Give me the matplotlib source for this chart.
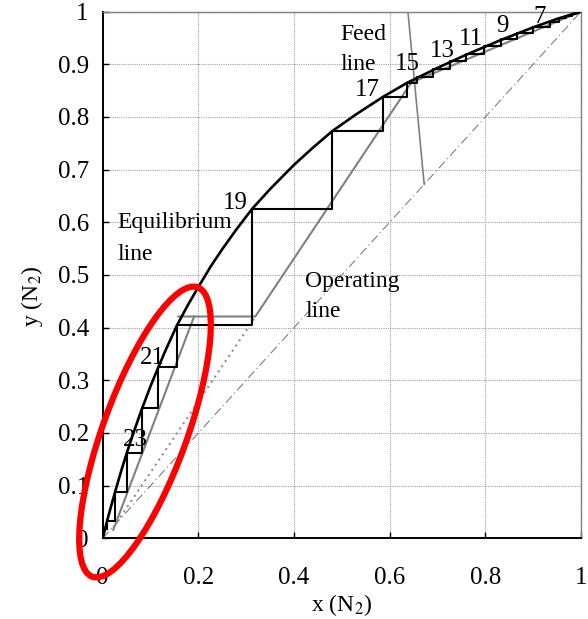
import numpy as np
import matplotlib
matplotlib.use("Agg")
import matplotlib.pyplot as plt
from matplotlib.patches import Ellipse
from matplotlib.transforms import IdentityTransform

plt.rcParams['font.family'] = ['Liberation Serif', 'DejaVu Serif']
plt.rcParams['mathtext.fontset'] = 'stix'

# equilibrium curve
eq_x = [0, 0.005, 0.01, 0.02, 0.03, 0.04, 0.05, 0.065, 0.08, 0.1, 0.115, 0.13, 0.155,
        0.18, 0.2, 0.225, 0.25, 0.28, 0.312, 0.35, 0.4, 0.44, 0.48, 0.53, 0.586, 0.637,
        0.7, 0.76, 0.83, 0.9, 0.95, 1.0]
eq_y = [0, 0.018, 0.036, 0.069, 0.101, 0.132, 0.161, 0.202, 0.241, 0.289, 0.322, 0.354,
        0.404, 0.446, 0.477, 0.515, 0.549, 0.587, 0.625, 0.663, 0.709, 0.742, 0.773, 0.805,
        0.838, 0.865, 0.893, 0.918, 0.945, 0.970, 0.986, 1.0]

# stage points (on the equilibrium curve), stage 1 at the top
stage_x = [0.998, 0.995, 0.99, 0.982, 0.968, 0.953, 0.935, 0.90, 0.867, 0.832, 0.797,
           0.760, 0.725, 0.690, 0.656, 0.637, 0.586, 0.48, 0.312, 0.155, 0.116, 0.0815,
           0.05, 0.0257, 0.0096]
stage_y = [0.9995, 0.9986, 0.9972, 0.995, 0.991, 0.987, 0.981, 0.970, 0.959, 0.947, 0.934,
           0.920, 0.906, 0.890, 0.875, 0.865, 0.838, 0.774, 0.626, 0.405, 0.326, 0.247,
           0.162, 0.088, 0.033]
stage_bottom = 0.018

# operating lines
op_upper_x = [1.0, 0.645, 0.319, 0.158]
op_upper_y = [1.0, 0.865, 0.421, 0.421]
op_lower_x = [0.191, 0.022]
op_lower_y = [0.421, 0.016]
dotted_x = [0.022, 0.319]
dotted_y = [0.02, 0.42]
diag_x = [0.0, 1.0]
diag_y = [0.0, 1.0]
feed_x = [0.638, 0.672]
feed_y = [1.0, 0.672]

stage_labels = ['7', '9', '11', '13', '15', '17', '19', '21', '23']

fig = plt.figure(figsize=(5.88, 6.19), dpi=100)
ax = fig.add_axes([0.1747, 0.1304, 0.8135, 0.851])

# McCabe-Thiele steps
sx, sy = [1.0], [stage_y[0]]
for i in range(len(stage_x)):
    sx.append(stage_x[i])
    sy.append(stage_y[i])
    nxt = stage_y[i + 1] if i + 1 < len(stage_y) else stage_bottom
    sx.append(stage_x[i])
    sy.append(nxt)

ax.plot(diag_x, diag_y, color='#808080', lw=0.8, ls=(0, (8, 3, 1, 3)), zorder=2)
ax.plot(dotted_x, dotted_y, color='#909090', lw=1.5, ls=(0, (1, 2)), zorder=2)
ax.plot(feed_x, feed_y, color='#808080', lw=1.2, zorder=3)
ax.plot(op_upper_x, op_upper_y, color='#808080', lw=1.5, zorder=3)
ax.plot(op_lower_x, op_lower_y, color='#808080', lw=1.5, zorder=3)
ax.plot(sx, sy, color='black', lw=1.5, zorder=4)
ax.plot(eq_x, eq_y, color='black', lw=1.9, zorder=5, solid_joinstyle='round')

ax.set_xlim(0, 1)
ax.set_ylim(0, 1)
ax.set_xticks([0, 0.2, 0.4, 0.6, 0.8, 1.0])
ax.set_xticklabels(['0', '0.2', '0.4', '0.6', '0.8', '1'])
ax.set_yticks(np.arange(0, 1.01, 0.1))
ax.set_yticklabels(['0', '0.1', '0.2', '0.3', '0.4', '0.5', '0.6', '0.7', '0.8', '0.9', '1'])
ax.tick_params(axis='both', direction='in', length=4, width=1, labelsize=18, colors='black')
ax.tick_params(axis='x', pad=21)
ax.tick_params(axis='y', pad=10)
ax.grid(True, color='#a0a0a0', ls=(0, (1, 1)), lw=0.8)
ax.set_axisbelow(True)

for side in ['left', 'bottom']:
    ax.spines[side].set_color('black')
    ax.spines[side].set_linewidth(1.4)
for side in ['top', 'right']:
    ax.spines[side].set_color('#808080')
    ax.spines[side].set_linewidth(1.0)

ax.set_xlabel('x (N$_2$)', fontsize=17, labelpad=2)
ax.set_ylabel('y (N$_2$)', fontsize=17)
ax.yaxis.set_label_coords(-0.12, 0.46)

fs = 17
ax.text(0.03, 0.60, 'Equilibrium', fontsize=fs, va='center', ha='left')
ax.text(0.03, 0.538, 'line', fontsize=fs, va='center', ha='left')
ax.text(0.423, 0.487, 'Operating', fontsize=fs, va='center', ha='left')
ax.text(0.423, 0.43, 'line', fontsize=fs, va='center', ha='left')
ax.text(0.496, 0.956, 'Feed', fontsize=fs, va='center', ha='left')
ax.text(0.496, 0.90, 'line', fontsize=fs, va='center', ha='left')

label_pos = [(0.914, 0.99), (0.835, 0.972), (0.77, 0.948), (0.709, 0.925), (0.636, 0.9),
             (0.553, 0.851), (0.277, 0.637), (0.103, 0.343), (0.068, 0.187)]
for lab, (tx, ty) in zip(stage_labels, label_pos):
    ax.text(tx, ty, lab, fontsize=18, ha='center', va='center', zorder=6)

# red highlight ellipse (pixel coordinates)
ell = Ellipse((145, 619 - 432), width=308, height=84, angle=70, fill=False,
              edgecolor='#ff0000', lw=4.5, transform=IdentityTransform(), clip_on=False, zorder=10)
fig.patches.append(ell)

fig.savefig('out.png', dpi=100)
